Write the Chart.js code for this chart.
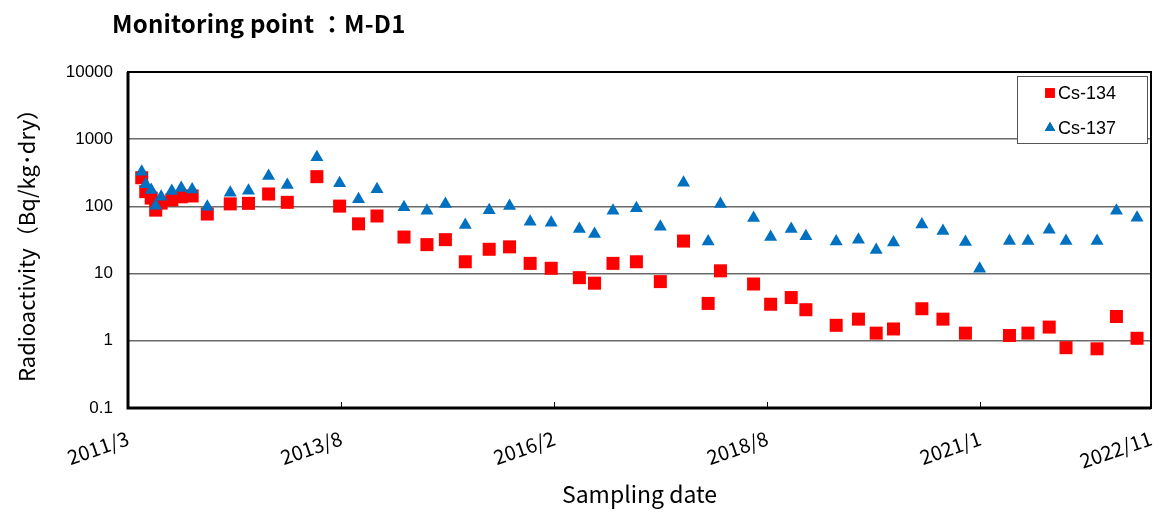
<!DOCTYPE html>
<html lang="en">
<head>
<meta charset="UTF-8">
<title>Monitoring point M-D1</title>
<script src="https://cdn.jsdelivr.net/npm/chart.js"></script>
<style>
    body { margin: 0; background: #fff; }
    #wrap { position: relative; width: 1163px; height: 513px; }
    #title { position: absolute; left: 112px; top: 5px; font: bold 24px "Noto Sans CJK JP", sans-serif; color: #000; letter-spacing: 0.2px; }
</style>
</head>
<body>
<div id="wrap">
    <div id="title">Monitoring point ：M-D1</div>
    <canvas id="chart" width="1163" height="513"></canvas>
</div>
<script>
// sampling dates
const sampleDates = [
    '2011-05-08', '2011-05-25', '2011-06-17', '2011-07-06', '2011-07-29', '2011-09-12', '2011-10-22', '2011-12-07', '2012-02-09',
    '2012-05-16', '2012-08-01', '2012-10-25', '2013-01-12', '2013-05-17', '2013-08-21', '2013-11-09', '2014-01-26',
    '2014-05-20', '2014-08-25', '2014-11-11', '2015-02-03', '2015-05-15', '2015-08-09', '2015-11-04', '2016-02-01',
    '2016-05-30', '2016-08-02', '2016-10-19', '2017-01-26', '2017-05-07',
    '2017-08-13', '2017-11-25', '2018-01-16', '2018-06-05', '2018-08-16', '2018-11-11', '2019-01-12', '2019-05-20',
    '2019-08-22', '2019-11-05', '2020-01-17', '2020-05-16', '2020-08-13', '2020-11-16', '2021-01-15', '2021-05-21',
    '2021-08-07', '2021-11-05', '2022-01-15', '2022-05-26', '2022-08-16', '2022-11-11'
];
const cs134 = [
    267, 166, 133, 88, 112, 125, 139, 143, 77,
    109, 111, 153, 115, 277, 101, 55, 72,
    35, 27, 32, 15, 23, 25, 14.2, 12,
    8.7, 7.2, 14.2, 15, 7.6,
    30.5, 3.6, 11, 7.0, 3.5, 4.4, 2.9, 1.7,
    2.1, 1.3, 1.5, 3.0, 2.1, 1.3, null, 1.2,
    1.3, 1.6, 0.79, 0.76, 2.3, 1.09
];
const cs137 = [
    328, 213, 175, 102, 139, 169, 188, 178, 99,
    160, 171, 283, 208, 538, 221, 128, 180,
    97, 86, 109, 53, 88, 101, 59, 57,
    46, 39, 86, 94, 50,
    225, 30, 109, 67, 35, 46, 36, 30,
    32, 22.4, 29, 54, 43, 29.5, 11.8, 30.5,
    30.5, 45, 30.5, 30.5, 86, 68
];

const axisStart = '2011-03-11';
const axisEnd = '2023-01-09';
const tickDates = ['2011-03-11', '2013-08-28', '2016-02-14', '2018-08-02', '2021-01-18', '2023-01-09'];
const tickLabels = ['2011/3', '2013/8', '2016/2', '2018/8', '2021/1', '2022/11'];
const yTicks = [0.1, 1, 10, 100, 1000, 10000];
const yLabels = ['0.1', '1', '10', '100', '1000', '10000'];

// days since axis start
const day = s => (Date.parse(s) - Date.parse(axisStart)) / 86400000;

function points(values) {
    const out = [];
    sampleDates.forEach((d, i) => {
        if (values[i] !== null) out.push({ x: day(d), y: values[i] });
    });
    return out;
}

// plot frame and inner tick marks
const framePlugin = {
    id: 'frame',
    afterDatasetsDraw(chart) {
        const { ctx, chartArea: a } = chart;
        const xs = chart.scales.x;
        ctx.save();
        ctx.strokeStyle = '#000';
        ctx.lineWidth = 2;
        ctx.strokeRect(a.left, a.top, a.right - a.left, a.bottom - a.top);
        ctx.lineWidth = 3;
        ctx.beginPath();
        ctx.moveTo(a.left, a.top);
        ctx.lineTo(a.left, a.bottom);
        ctx.lineTo(a.right, a.bottom);
        ctx.stroke();
        ctx.lineWidth = 1;
        xs.ticks.forEach((t, i) => {
            if (i === 0 || i === xs.ticks.length - 1) return;
            const px = Math.round(xs.getPixelForValue(t.value)) + 0.5;
            ctx.beginPath();
            ctx.moveTo(px, a.bottom);
            ctx.lineTo(px, a.bottom - 6);
            ctx.stroke();
        });
        ctx.restore();
    }
};

// legend box in the top right of the plot
const legendPlugin = {
    id: 'boxLegend',
    afterDraw(chart) {
        const ctx = chart.ctx;
        ctx.save();
        ctx.fillStyle = '#fff';
        ctx.fillRect(1017, 76, 130, 67);
        ctx.strokeStyle = '#555';
        ctx.lineWidth = 1;
        ctx.strokeRect(1017.5, 76.5, 130, 67);
        const rows = [93, 128];
        chart.data.datasets.forEach((ds, i) => {
            Chart.helpers.drawPoint(ctx, {
                pointStyle: ds.pointStyle,
                radius: ds.pointStyle === 'rect' ? 7 : 6,
                rotation: 0,
                borderWidth: 0
            }, 1050, rows[i]);
            ctx.fillStyle = ds.backgroundColor;
            ctx.fill();
            ctx.fillStyle = '#000';
            ctx.font = '18px "Liberation Sans", Arial, sans-serif';
            ctx.textBaseline = 'middle';
            ctx.fillText(ds.label, 1058, rows[i] + 1);
        });
        ctx.restore();
    }
};

new Chart(document.getElementById('chart'), {
    type: 'scatter',
    data: {
        datasets: [{
            label: 'Cs-134',
            data: points(cs134),
            pointStyle: 'rect',
            pointRadius: 9.2,
            pointHoverRadius: 9.2,
            backgroundColor: '#FF0000',
            borderColor: '#FF0000',
            borderWidth: 0,
            order: 1
        }, {
            label: 'Cs-137',
            data: points(cs137),
            pointStyle: 'triangle',
            pointRadius: 7.5,
            pointHoverRadius: 7.5,
            backgroundColor: '#0070C0',
            borderColor: '#0070C0',
            borderWidth: 0,
            order: 0
        }]
    },
    options: {
        responsive: false,
        animation: false,
        layout: { padding: { top: 72, right: 12, left: 0, bottom: 0 } },
        plugins: {
            legend: { display: false },
            tooltip: { enabled: false }
        },
        scales: {
            x: {
                type: 'linear',
                min: 0,
                max: day(axisEnd),
                afterBuildTicks: s => { s.ticks = tickDates.map(d => ({ value: day(d) })); },
                afterFit: s => { s.height = 105; s.paddingLeft = 0; s.paddingRight = 0; },
                grid: { display: false },
                border: { display: false },
                ticks: {
                    autoSkip: false,
                    minRotation: 19,
                    maxRotation: 19,
                    padding: 10,
                    color: '#000',
                    font: { family: '"Noto Sans CJK JP", sans-serif', size: 20 },
                    callback: (v, i) => tickLabels[i]
                },
                title: {
                    display: true,
                    text: 'Sampling date',
                    color: '#000',
                    font: { family: '"Noto Sans CJK JP", sans-serif', size: 23 },
                    padding: { top: 0, bottom: 5 }
                }
            },
            y: {
                type: 'logarithmic',
                min: 0.1,
                max: 10000,
                afterBuildTicks: s => { s.ticks = yTicks.map(v => ({ value: v })); },
                afterFit: s => { s.width = 128; },
                grid: { color: '#6a6a6a', lineWidth: 1.5, drawTicks: false },
                border: { display: false },
                ticks: {
                    padding: 15,
                    color: '#000',
                    font: { family: '"Liberation Sans", Arial, sans-serif', size: 17 },
                    callback: (v, i) => yLabels[i]
                },
                title: {
                    display: true,
                    text: 'Radioactivity（Bq/kg･dry）',
                    color: '#000',
                    font: { family: '"Noto Sans CJK JP", sans-serif', size: 22 },
                    padding: { top: 13, bottom: 0 }
                }
            }
        }
    },
    plugins: [framePlugin, legendPlugin]
});
</script>
</body>
</html>
